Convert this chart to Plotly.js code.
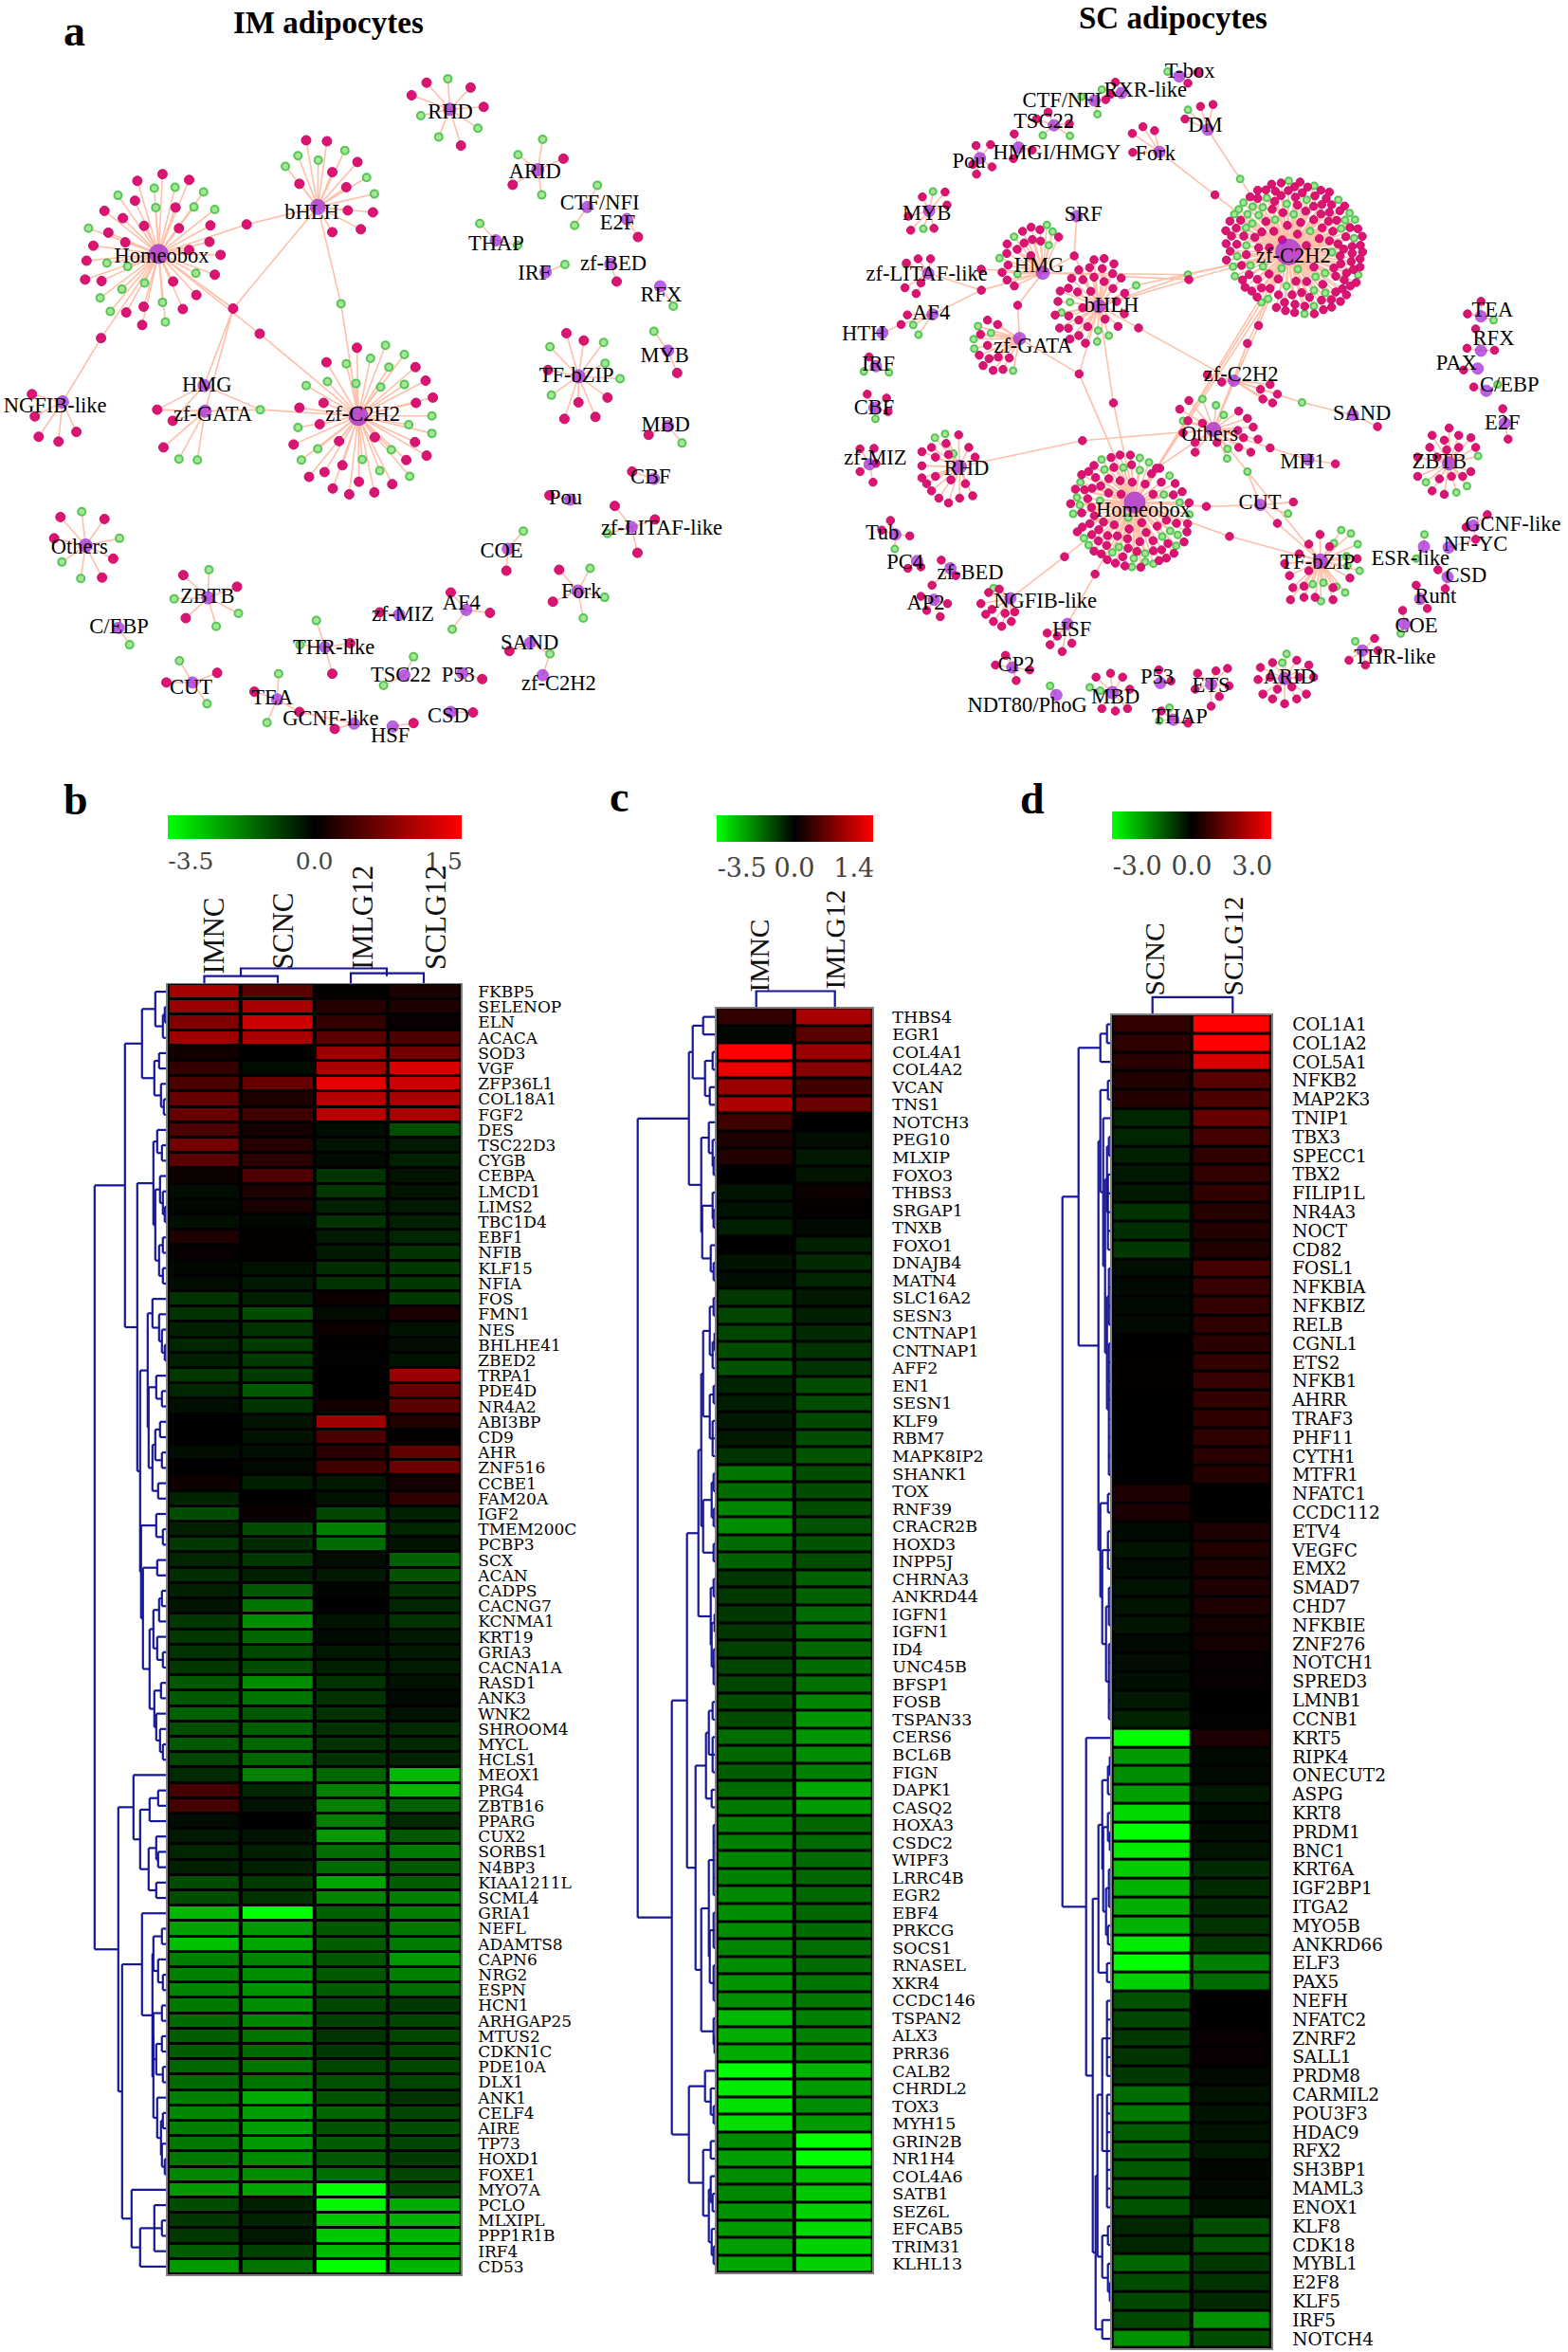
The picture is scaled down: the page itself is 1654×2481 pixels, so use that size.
<!DOCTYPE html>
<html>
<head>
<meta charset="utf-8">
<script src="https://cdn.plot.ly/plotly-3.0.1.min.js"></script>
<style>html,body{margin:0;padding:0;background:#fff}</style>
</head>
<body>
<div id="chart" style="width:1654px;height:2481px"></div>
<script>
/* ---------- heatmap panels: colour level read per cell, -1 full green, 0 black, +1 full red ---------- */
const bSamples = ['IMNC','SCNC','IMLG12','SCLG12'];
const bGenes = ['FKBP5','SELENOP','ELN','ACACA','SOD3','VGF','ZFP36L1','COL18A1','FGF2','DES','TSC22D3','CYGB','CEBPA','LMCD1','LIMS2','TBC1D4','EBF1','NFIB','KLF15','NFIA','FOS','FMN1','NES','BHLHE41','ZBED2','TRPA1','PDE4D','NR4A2','ABI3BP','CD9','AHR','ZNF516','CCBE1','FAM20A','IGF2','TMEM200C','PCBP3','SCX','ACAN','CADPS','CACNG7','KCNMA1','KRT19','GRIA3','CACNA1A','RASD1','ANK3','WNK2','SHROOM4','MYCL','HCLS1','MEOX1','PRG4','ZBTB16','PPARG','CUX2','SORBS1','N4BP3','KIAA1211L','SCML4','GRIA1','NEFL','ADAMTS8','CAPN6','NRG2','ESPN','HCN1','ARHGAP25','MTUS2','CDKN1C','PDE10A','DLX1','ANK1','CELF4','AIRE','TP73','HOXD1','FOXE1','MYO7A','PCLO','MLXIPL','PPP1R1B','IRF4','CD53'];
const bValues = [
[.65,.35,.02,.1],[.6,.65,.15,.12],[.5,.8,.2,.03],[.62,.65,.35,.3],[.07,0,.6,.45],[.2,-.05,.65,.85],[.3,.4,.9,.8],[.4,.12,.7,.65],[.4,.25,.7,.65],[.3,.08,-.05,-.3],
[.45,.15,-.08,-.1],[.35,.17,-.04,-.13],[.05,.3,-.2,-.08],[-.05,.12,-.22,-.08],[-.03,.1,-.13,-.1],[-.06,-.03,-.2,-.13],[.12,.02,-.1,-.15],[.03,.02,-.1,-.2],[-.03,-.07,-.18,-.22],[-.05,-.1,-.2,-.22],
[-.2,-.13,.05,-.22],[-.2,-.3,-.05,.1],[-.13,-.2,.05,-.07],[-.15,-.23,.01,-.05],[-.12,-.23,-.01,-.07],[-.22,-.23,0,.6],[-.15,-.35,0,.4],[-.06,-.2,.07,.35],[0,-.08,.62,.13],[0,-.07,.3,.02],
[-.05,-.06,.17,.38],[0,-.04,.25,.42],[.06,-.12,-.1,.08],[-.14,.01,-.07,.18],[-.3,.04,-.27,-.13],[-.13,-.3,-.5,-.15],[-.22,-.17,-.42,-.07],[-.15,-.22,-.05,-.38],[-.18,-.12,-.1,-.33],[-.13,-.35,-.02,-.2],
[-.08,-.45,0,-.15],[-.22,-.55,-.08,-.2],[-.22,-.4,-.04,-.1],[-.2,-.28,-.09,-.1],[-.22,-.3,-.13,-.11],[-.35,-.55,-.2,-.07],[-.35,-.45,-.2,-.04],[-.38,-.35,-.2,-.07],[-.3,-.37,-.2,-.17],[-.35,-.4,-.2,-.16],
[-.27,-.4,-.2,-.14],[-.17,-.5,-.4,-.72],[.28,-.15,-.5,-.72],[.28,-.07,-.5,-.38],[-.05,0,-.5,-.17],[-.1,-.07,-.6,-.35],[-.15,-.12,-.43,-.48],[-.13,-.13,-.42,-.35],[-.3,-.23,-.65,-.37],[-.3,-.2,-.52,-.5],
[-.72,-1,-.38,-.5],[-.63,-.6,-.35,-.47],[-.75,-.65,-.37,-.48],[-.5,-.52,-.35,-.6],[-.5,-.55,-.35,-.5],[-.52,-.58,-.37,-.43],[-.47,-.55,-.27,-.22],[-.42,-.52,-.25,-.27],[-.37,-.45,-.2,-.27],[-.37,-.42,-.22,-.27],
[-.4,-.45,-.27,-.27],[-.42,-.45,-.32,-.27],[-.5,-.67,-.33,-.2],[-.53,-.62,-.4,-.27],[-.5,-.62,-.33,-.3],[-.47,-.6,-.36,-.27],[-.47,-.55,-.35,-.23],[-.53,-.55,-.43,-.27],[-.6,-.65,-1,-.3],[-.3,-.13,-.97,-.67],
[-.22,-.14,-.78,-.7],[-.22,-.09,-.78,-.7],[-.37,-.25,-.72,-.67],[-.6,-.45,-1,-.7]];
const bTree = [77,
 [45,
  [27,[13,0,[5,[3,0,0],0]],[14,[9,0,0],[7,0,[4,0,0]]]],
  [32,
   [15,[11,0,[6,0,0]],[13,[8,0,[5,0,[3,0,0]]],[9,[5,0,0],[5,0,0]]]],
   [29,
    [21,[16,0,[9,0,[6,0,[3,0,0]]]],[20,[12,0,[6,0,0]],[16,[13,[8,0,0],[6,0,0]],[10,0,0]]]],
    [28,[12,0,[5,0,0]],[26,[11,0,0],[19,[15,[9,[6,0,0],0],[11,0,[5,0,0]]],[14,[7,0,0],[12,0,[8,0,[5,0,0]]]]]]]
   ]
  ]
 ],
 [52,
  [36,0,[29,[19,[10,0,0],0],[20,[12,0,[10,0,0]],[12,0,0]]]],
  [48,
   [27,0,[16,[15,[6,0,0],[10,0,[5,0,0]]],[15,[15,[6,0,0],[12,[6,0,0],[5,0,0]]],[11,0,[7,[5,0,0],[6,0,[3,0,0]]]]]]],
   [38,0,[29,[14,0,[6,0,0],0],0]]
  ]
 ]
];

const cSamples = ['IMNC','IMLG12'];
const cGenes = ['THBS4','EGR1','COL4A1','COL4A2','VCAN','TNS1','NOTCH3','PEG10','MLXIP','FOXO3','THBS3','SRGAP1','TNXB','FOXO1','DNAJB4','MATN4','SLC16A2','SESN3','CNTNAP1','CNTNAP1','AFF2','EN1','SESN1','KLF9','RBM7','MAPK8IP2','SHANK1','TOX','RNF39','CRACR2B','HOXD3','INPP5J','CHRNA3','ANKRD44','IGFN1','IGFN1','ID4','UNC45B','BFSP1','FOSB','TSPAN33','CERS6','BCL6B','FIGN','DAPK1','CASQ2','HOXA3','CSDC2','WIPF3','LRRC4B','EGR2','EBF4','PRKCG','SOCS1','RNASEL','XKR4','CCDC146','TSPAN2','ALX3','PRR36','CALB2','CHRDL2','TOX3','MYH15','GRIN2B','NR1H4','COL4A6','SATB1','SEZ6L','EFCAB5','TRIM31','KLHL13'];
const cValues = [
[.2,.65],[-.03,.35],[1,.6],[.92,.52],[.6,.25],[.68,.42],[.25,0],[.12,-.05],[.13,-.1],[0,-.08],[-.08,.05],[-.07,.02],[-.12,-.04],[.01,-.13],[-.07,-.17],[-.06,-.15],[-.22,-.1],[-.27,-.12],[-.27,-.17],[-.3,-.2],
[-.33,-.2],[-.14,-.3],[-.12,-.3],[-.1,-.28],[-.1,-.3],[-.2,-.33],[-.45,-.3],[-.42,-.3],[-.52,-.3],[-.55,-.32],[-.42,-.33],[-.38,-.3],[-.22,-.38],[-.22,-.38],[-.22,-.42],[-.22,-.42],[-.25,-.4],[-.27,-.42],[-.27,-.44],[-.3,-.52],
[-.3,-.58],[-.42,-.58],[-.4,-.55],[-.37,-.5],[-.42,-.66],[-.47,-.6],[-.5,-.4],[-.5,-.42],[-.52,-.42],[-.5,-.4],[-.53,-.4],[-.55,-.4],[-.55,-.42],[-.52,-.43],[-.55,-.42],[-.58,-.45],[-.57,-.47],[-.72,-.5],[-.68,-.5],[-.67,-.52],
[-1,-.7],[-.92,-.6],[-.88,-.55],[-.88,-.6],[-.55,-1],[-.62,-1],[-.55,-.75],[-.53,-.78],[-.57,-.82],[-.6,-.85],[-.62,-.82],[-.65,-.82]];
const cTree = [83,
 [29,
  [25,[14,0,0],[12,[4,0,0],[7,0,0]]],
  [16,[8,0,[4,0,[3,0,0]]],[15,[4,0,[3,0,0]],[6,0,[3,0,0]]]]
 ],
 [47,
  [31,
   [19,
    [16,[14,[7,[3,0,0],[4,[2,0,0],0]],[7,[3,0,0],[4,0,0,0]]],[14,[5,[3,0,0],[3,0,0]],[3,0,0]]],
    [6,[3,0,0],[5,[2,0,0],[3,0,0,0]]]
   ],
   [22,
    [11,[8,[4,0,0],[4,0,0,0]],[5,0,0]],
    [16,[8,[3,0,0,0,0,0],[7,[3,0,0,0],[3,0,0,0]]],[3,0,[2,0,0]]]
   ]
  ],
  [29,[12,0,[6,0,[3,0,0]]],[14,[6,0,0],[8,[6,0,[4,0,0]],[5,0,[3,0,0]]]]]
 ]
];

const dSamples = ['SCNC','SCLG12'];
const dGenes = ['COL1A1','COL1A2','COL5A1','NFKB2','MAP2K3','TNIP1','TBX3','SPECC1','TBX2','FILIP1L','NR4A3','NOCT','CD82','FOSL1','NFKBIA','NFKBIZ','RELB','CGNL1','ETS2','NFKB1','AHRR','TRAF3','PHF11','CYTH1','MTFR1','NFATC1','CCDC112','ETV4','VEGFC','EMX2','SMAD7','CHD7','NFKBIE','ZNF276','NOTCH1','SPRED3','LMNB1','CCNB1','KRT5','RIPK4','ONECUT2','ASPG','KRT8','PRDM1','BNC1','KRT6A','IGF2BP1','ITGA2','MYO5B','ANKRD66','ELF3','PAX5','NEFH','NFATC2','ZNRF2','SALL1','PRDM8','CARMIL2','POU3F3','HDAC9','RFX2','SH3BP1','MAML3','ENOX1','KLF8','CDK18','MYBL1','E2F8','KLF5','IRF5','NOTCH4'];
const dValues = [
[.2,1],[.18,1],[.17,.85],[.13,.35],[.14,.3],[-.15,.4],[-.15,.27],[-.13,.18],[-.1,.2],[-.1,.18],[-.2,.15],[-.18,.14],[-.22,.13],[-.06,.27],[-.04,.22],[-.04,.2],[-.04,.18],[0,.17],[.02,.2],[.02,.22],
[.01,.2],[.01,.18],[.01,.18],[0,.17],[0,.14],[.12,.01],[.1,.01],[-.04,.12],[-.08,.13],[-.05,.12],[-.07,.12],[-.08,.12],[-.08,.08],[-.04,.08],[-.05,.03],[-.06,.03],[-.1,.01],[-.14,-.01],[-1,.12],[-.6,-.04],
[-.55,-.04],[-.62,-.1],[-.85,-.06],[-1,-.05],[-.92,-.08],[-.8,-.17],[-.7,-.17],[-.68,-.17],[-.7,-.2],[-.92,-.22],[-1,-.5],[-.82,-.42],[-.32,0],[-.27,0],[-.22,.03],[-.2,.03],[-.22,-.04],[-.42,-.07],[-.47,-.07],[-.37,-.08],
[-.38,-.09],[-.35,-.03],[-.35,-.04],[-.32,-.07],[-.15,-.3],[-.15,-.32],[-.4,-.22],[-.3,-.2],[-.28,-.17],[-.28,-.57],[-.57,-.3]];
const dTree = [52,
 [35,
  [12,[5,0,0],0],
  [14,
   [12,[4,0,0],[9,0,[7,[5,[3,0,0],[4,0,0,0,0,0]],[5,[3,0,0,0,0],[3,0,0,0,0,0,0,0,0]]]]],
   [12,[4,0,0],[10,[4,0,0,0],[6,[3,0,0,0],[3,0,0,0,0,0]]]]
  ]
 ],
 [27,0,
  [20,
   [14,[10,[4,[2,0,0],0],[9,[4,0,[2,0,0]],[6,[3,0,0,0],[4,0,0]]]],[5,0,0]],
   [17,
    [15,[10,[5,0,0,0,0,0],[5,0,0,0,0,0,0,0]],[10,[4,0,0],[4,0,[2,0,0]]]],
    [10,0,0]
   ]
  ]
 ]
];

/* ---------- networks: hub and target positions ---------- */
const Z1=[0,0,1.96], Z2=[850,0,1.96], CROP_ZF=[1270,170,3], CROP_HOX=[1110,460,3], CROP_CORE=[1020,220,3];

const imHubPos = {'Homeobox':[328,525,20],'bHLH':[657,428,16],'zf-C2H2':[741,860,20],'NGFIB-like':[129,831,13],'HMG':[422,797,13],'zf-GATA':[424,850,13],'RHD':[930,226,13],'ARID':[1112,351,13],'CTF/NFI':[1214,428,12],'E2F':[1296,453,12],'THAP':[1025,497,12],'IRF':[1128,563,12],'zf-BED':[1262,546,12],'RFX':[1365,592,12],'TF-bZIP':[1196,778,14],'MYB':[1381,725,12],'MBD':[1381,881,12],'CBF':[1352,990,12],'Pou':[1179,1033,12],'zf-LITAF-like':[1306,1090,12],'COE':[1050,1135,12],'Fork':[1195,1222,13],'AF4':[964,1261,12],'zf-MIZ':[825,1271,12],'SAND':[1096,1329,12],'P53':[956,1392,12],'TSC22':[836,1396,12],'THR-like':[672,1338,12],'CSD':[932,1472,12],'HSF':[812,1502,12],'GCNF-like':[732,1496,12],'TEA':[573,1446,12],'CUT':[398,1411,12],'ZBTB':[430,1236,13],'C/EBP':[245,1298,12],'Others':[177,1128,14],'zf-C2H2#2':[1122,1396,12]};
const imLabelPos = {'Homeobox':[334,532],'bHLH':[645,441],'zf-C2H2':[750,860],'NGFIB-like':[114,841],'HMG':[428,798],'zf-GATA':[440,860],'RHD':[931,233],'ARID':[1106,357],'CTF/NFI':[1240,423],'E2F':[1277,464],'THAP':[1026,506],'IRF':[1105,567],'zf-BED':[1268,548],'RFX':[1367,612],'TF-bZIP':[1192,779],'MYB':[1374,737],'MBD':[1376,881],'CBF':[1345,988],'Pou':[1169,1032],'zf-LITAF-like':[1368,1095],'COE':[1037,1141],'Fork':[1202,1226],'AF4':[954,1250],'zf-MIZ':[833,1273],'SAND':[1095,1331],'P53':[947,1398],'TSC22':[829,1399],'THR-like':[690,1341],'CSD':[927,1483],'HSF':[807,1524],'GCNF-like':[684,1489],'TEA':[563,1446],'CUT':[395,1424],'ZBTB':[429,1235],'C/EBP':[246,1298],'Others':[164,1134],'zf-C2H2#2':[1155,1416]};
const imRedLeaves = {
'Homeobox':[336,360,284,374,391,372,216,436,279,415,363,429,254,451,298,467,370,472,435,466,224,481,259,501,193,508,433,500,456,527,179,539,391,517,176,578,210,581,358,582,444,568,261,646,297,634,378,639,406,610,294,672],
'bHLH':[633,290,676,292,739,335,687,356,619,380,716,387,719,435,771,439,746,474,687,480],
'zf-C2H2':[738,719,675,749,859,759,880,787,669,833,860,833,895,822,619,843,661,877,701,912,775,904,858,914,607,919,840,951,882,942,708,962,671,976,639,986,811,1001,742,996,688,1010,722,1022,774,1018],
'NGFIB-like':[66,815,72,861,80,903,121,913,158,893],'zf-GATA':[338,925],'RHD':[882,171,851,197,973,181,1000,221,953,301],'ARID':[1165,328,1060,382],'E2F':[1319,490],'zf-BED':[1275,582],
'TF-bZIP':[1171,689,1207,704,1133,765,1196,832,1256,822,1167,866,1231,862],'MYB':[1400,771],'MBD':[1341,899],'CBF':[1307,975],'Pou':[1136,1024],'zf-LITAF-like':[1271,1046,1354,1074,1318,1143],'COE':[1047,1180],'Fork':[1156,1178,1143,1244],'AF4':[932,1225,1013,1267],'zf-MIZ':[785,1266],'SAND':[1053,1346],'P53':[997,1404],'THR-like':[724,1330,687,1393],'CSD':[978,1473],'HSF':[855,1495],'GCNF-like':[692,1507],'TEA':[526,1430],'CUT':[449,1391,344,1411],'ZBTB':[379,1189,490,1213,384,1278],'Others':[125,1069,216,1073,112,1113,234,1155,211,1194]};
const imGreenLeaves = {
'Homeobox':[244,404,319,389,362,387,421,397,322,429,401,428,444,433,183,472,221,544,264,551,405,565,299,585,252,598,207,616,228,644,336,625,342,666],
'bHLH':[616,322,658,331,713,311,590,344,758,367,774,401],
'zf-C2H2':[797,714,836,733,716,752,766,741,804,759,677,789,633,797,736,793,787,800,836,795,893,860,845,878,893,896,616,884,657,928,809,930,623,951,749,950,785,973,847,985],
'zf-GATA':[370,949,408,951],'RHD':[926,163,870,239,988,265,907,283],'ARID':[1122,288,1071,320,1120,403],'CTF/NFI':[1235,383,1188,466],'THAP':[992,462,1070,507],'IRF':[1168,547],'RFX':[1392,633],
'TF-bZIP':[1137,717,1248,708,1251,751,1282,783,1140,817],'MYB':[1352,685],'MBD':[1410,916],'zf-LITAF-like':[1256,1103],'COE':[1082,1098],'Fork':[1220,1175,1250,1235,1206,1278],'AF4':[935,1301],'TSC22':[855,1358,793,1417],'THR-like':[654,1283,620,1333],'TEA':[576,1393,552,1494],'CUT':[371,1366,428,1455],'ZBTB':[432,1178,360,1238,493,1268,447,1295],'C/EBP':[268,1333],'Others':[169,1058,247,1113,128,1162,167,1196]};
const imSharedNodes = [
[510,464,'r','Homeobox','bHLH'],[482,638,'r','Homeobox','bHLH','HMG','zf-GATA'],[537,690,'r','Homeobox','zf-C2H2'],[705,628,'g','bHLH','zf-C2H2'],[209,699,'r','Homeobox','NGFIB-like'],[538,847,'g','zf-GATA','zf-C2H2','HMG'],[325,847,'r','HMG','zf-GATA'],[357,870,'r','HMG','zf-GATA'],[1137,1352,'g','SAND','zf-C2H2#2'],[619,1472,'r','TEA','GCNF-like']];

const scHubPos = {'zf-C2H2':[998,521,27],'Homeobox':[680,1039,22],'HMG':[490,564,14],'bHLH':[606,633,14],'zf-GATA':[442,700,13],'T-box':[772,158,12],'RXR-like':[653,192,12],'CTF/NFI':[597,208,12],'TSC22':[513,259,12],'HMGI/HMGY':[440,305,12],'Pou':[360,327,12],'DM':[831,268,12],'Fork':[731,314,12],'MYB':[255,436,12],'SRF':[560,447,12],'zf-LITAF-like':[253,565,12],'AF4':[262,650,12],'HTH':[158,688,12],'IRF':[145,757,12],'CBF':[142,843,12],'zf-MIZ':[132,960,12],'RHD':[318,965,14],'Tub':[185,1105,12],'PC4':[230,1160,12],'zf-BED':[299,1175,12],'AP2':[265,1240,12],'NGFIB-like':[423,1237,12],'HSF':[541,1290,12],'CP2':[427,1380,12],'NDT80/PhoG':[518,1437,12],'MBD':[634,1432,13],'P53':[733,1412,12],'ETS':[838,1415,12],'THAP':[760,1488,12],'ARID':[990,1403,13],'THR-like':[1151,1345,12],'COE':[1238,1290,12],'Runt':[1270,1238,12],'CSD':[1327,1193,12],'ESR-like':[1278,1130,12],'NF-YC':[1329,1132,12],'GCNF-like':[1380,1087,12],'TF-bZIP':[1064,1160,15],'CUT':[940,1044,12],'Others':[843,888,15],'zf-C2H2#2':[885,787,12],'SAND':[1131,858,12],'MH1':[1039,950,12],'ZBTB':[1330,958,14],'TEA':[1396,654,12],'RFX':[1396,725,12],'PAX':[1389,762,12],'C/EBP':[1407,808,12],'E2F':[1445,875,12]};
const scLabelPos = {'zf-C2H2':[1008,532],'Homeobox':[698,1058],'HMG':[482,551],'bHLH':[632,634],'zf-GATA':[470,718],'T-box':[794,149],'RXR-like':[702,189],'CTF/NFI':[530,211],'TSC22':[492,254],'HMGI/HMGY':[519,318],'Pou':[337,336],'DM':[826,262],'Fork':[723,321],'MYB':[250,443],'SRF':[574,445],'zf-LITAF-like':[250,570],'AF4':[259,650],'HTH':[120,693],'IRF':[150,755],'CBF':[141,846],'zf-MIZ':[144,950],'RHD':[332,971],'Tub':[158,1104],'PC4':[205,1165],'zf-BED':[340,1187],'AP2':[248,1250],'NGFIB-like':[495,1245],'HSF':[550,1304],'CP2':[435,1377],'NDT80/PhoG':[458,1460],'MBD':[640,1443],'P53':[726,1402],'ETS':[838,1420],'THAP':[773,1484],'ARID':[1000,1403],'THR-like':[1218,1360],'COE':[1262,1296],'Runt':[1302,1236],'CSD':[1365,1192],'ESR-like':[1250,1157],'NF-YC':[1385,1128],'GCNF-like':[1462,1087],'TF-bZIP':[1058,1165],'CUT':[939,1041],'Others':[835,900],'zf-C2H2#2':[900,777],'SAND':[1150,857],'MH1':[1027,958],'ZBTB':[1310,958],'TEA':[1420,644],'RFX':[1422,703],'PAX':[1345,753],'C/EBP':[1455,798],'E2F':[1440,877]};
const scDenseRed = [
['zf-C2H2',CROP_ZF,[214,73,244,69,304,66,287,81,328,82,170,92,196,91,226,95,267,93,311,100,244,109,370,92,397,98,351,110,146,113,170,118,224,127,289,114,387,118,373,137,404,138,347,143,296,139,445,142,216,152,250,163,322,158,397,162,370,167,430,157,82,190,116,187,196,191,347,185,306,194,394,190,420,187,264,203,102,212,69,220,183,224,221,222,296,231,374,211,408,222,462,210,487,214,87,237,126,237,161,241,365,245,397,252,449,239,501,238,248,249,424,262,70,261,104,263,173,274,207,274,324,267,469,270,495,266,442,278,83,285,134,296,502,287,469,292,431,300,71,313,119,330,494,309,466,318,433,325,411,338,348,335,494,335,473,343,451,354,143,359,206,357,169,374,235,373,291,380,325,381,122,376,376,390,444,376,417,364,482,384,463,395,130,399,182,401,209,403,151,411,309,416,236,423,279,423,334,431,168,430,417,414,438,404,451,423,372,440,403,438,432,444,255,447,288,453,229,463,319,459,258,473,287,479,378,470,404,462,349,483]],
['Homeobox',CROP_HOX,[186,68,214,60,247,60,132,93,195,99,251,91,115,112,93,122,340,102,314,119,137,131,179,135,215,141,253,146,345,146,389,150,294,152,153,158,126,165,102,170,73,168,411,176,178,180,218,184,319,184,383,186,112,198,58,214,433,211,124,226,93,243,133,252,162,272,119,277,283,274,361,266,393,276,428,277,95,288,79,303,196,281,147,296,243,294,332,285,297,305,426,303,125,312,175,315,206,316,238,325,146,332,277,334,319,331,417,335,172,346,366,340,240,355,268,365,320,363,346,360,132,364,155,373,223,382,385,371,361,386,174,391,338,394,200,402,230,411,280,415]],
['HMG',CROP_CORE,[176,72,203,59,231,67,290,90,127,112,207,98,233,103,181,109,159,129,126,142,202,149,130,179,45,192,111,202,127,226,150,245]],
['bHLH',CROP_CORE,[402,162,434,158,465,175,354,194,388,187,428,190,461,206,488,220,331,221,367,225,402,217,434,231,295,261,321,252,350,264,392,262,462,253,499,268,288,294,279,337,366,314,322,340,474,294,498,333,354,353,437,350,293,378,321,379,382,374,478,373,354,402,326,413,375,426]],
['zf-GATA',CROP_CORE,[65,353,97,367,43,398,65,433,39,464,99,470,134,473,70,475,51,497,83,512,114,509]]];
const scDenseGreen = [
['zf-C2H2',CROP_ZF,[268,62,349,78,199,116,325,122,425,122,125,131,262,135,110,152,154,144,186,146,96,168,138,168,173,171,284,168,461,164,225,185,447,187,478,185,153,197,133,211,434,213,336,221,475,244,134,267,105,301,405,288,147,330,187,333,92,334,246,339,297,342,98,364,353,366,383,354,488,360,261,395,348,409,384,417,348,459,318,483]],
['Homeobox',CROP_HOX,[156,74,277,69,306,83,165,106,225,100,277,108,371,125,89,146,353,185,78,194,151,204,403,210,87,218,66,246,240,258,434,248,373,300,397,313,348,318,100,323,392,347,115,345,211,351,190,368,294,371,258,387,294,398,320,404,252,414]],
['HMG',CROP_CORE,[149,89,253,52,271,73,259,116,103,157,160,207]],
['bHLH',CROP_CORE,[326,296,299,329,415,386,449,402,412,421]],
['zf-GATA',CROP_CORE,[35,372,76,394,21,413,23,443,146,513]]];
const scRedLeaves = {
'T-box':[790,172,810,150],'RXR-like':[630,195,640,170],'CTF/NFI':[620,206],'TSC22':[477,246,501,232,545,256],'HMGI/HMGY':[431,277,468,310,429,328],'Pou':[352,301,382,299,385,345,353,360,345,340],'DM':[816,220,842,216,784,246],'Fork':[675,276,697,262,721,270,676,315],'MYB':[241,407,288,397,292,424,212,447,217,476,265,472],
'zf-LITAF-like':[208,544,232,535,258,535,205,595,228,607,238,585],'AF4':[210,651],'IRF':[131,738],'CBF':[127,815,167,823,170,851],'zf-MIZ':[112,928,141,927,145,958,112,975,139,997],
'RHD':[240,934,316,899,337,925,290,917,260,925,268,945,240,963,295,940,240,988,268,985,260,1015,300,992,250,1000,275,1030,295,1040,318,1030,345,1025,330,1000,350,945],
'Tub':[175,1076,215,1108,157,1096],'PC4':[211,1175,238,1172],'zf-BED':[280,1158,261,1210,310,1190],'AP2':[238,1233,293,1248,278,1275,250,1262],'NGFIB-like':[362,1248,378,1225,400,1218,372,1270,388,1285,405,1295,425,1285,432,1265,412,1268,385,1260],'HSF':[499,1309,505,1333,530,1347,550,1330,520,1315],'CP2':[413,1355,392,1375,463,1385,435,1407],'MBD':[600,1400,630,1392,655,1400,670,1425,665,1465,612,1465,640,1470],'P53':[730,1385,755,1408],'ETS':[810,1392,848,1387,872,1382,875,1418,855,1440,838,1460,805,1425],'THAP':[790,1495,735,1470],
'ARID':[965,1370,1015,1365,1040,1375,1050,1400,1035,1435,1015,1445,990,1455,965,1445,945,1435,935,1405,940,1380,975,1425,1005,1420,1020,1400,960,1400],'THR-like':[1176,1320,1123,1365,1157,1375,1183,1345],'COE':[1234,1262],'Runt':[1262,1210,1285,1258],'CSD':[1307,1178,1322,1217],'GCNF-like':[1409,1064,1365,1090],
'TF-bZIP':[1063,1105,1040,1125,1020,1145,990,1165,1000,1190,1007,1215,1030,1212,1002,1240,1030,1235,1053,1235,1090,1240,1125,1195,1090,1215,1140,1155,1040,1180,1083,1130],'CUT':[1008,1038],
'Others':[792,828,773,846,820,875,790,870,895,850,913,865,925,883,893,890,905,905,935,908,895,925,920,935,780,895,805,915,805,935,850,915],'zf-C2H2#2':[830,775,860,790,940,805,960,795,975,815,945,825,965,833],'SAND':[1182,882],'MH1':[1095,959],
'ZBTB':[1330,885,1295,900,1320,910,1350,900,1375,905,1290,925,1325,930,1350,925,1265,945,1305,945,1385,925,1265,985,1295,1015,1320,1022,1358,985,1375,975,1310,990,1335,985],'TEA':[1368,649,1396,623],'RFX':[1367,720,1424,724,1385,680],'PAX':[1360,765],'C/EBP':[1381,800],'E2F':[1441,845,1452,908]};
const scGreenLeaves = {
'T-box':[748,148],'RXR-like':[612,185],'CTF/NFI':[570,200,603,236],'TSC22':[490,280,546,281],'DM':[790,227],'MYB':[263,396,243,473],'zf-LITAF-like':[207,547],'AF4':[222,672,233,692],'IRF':[120,768,172,770],'CBF':[144,866],'RHD':[267,905,288,897,305,938],'Tub':[184,1135],'NGFIB-like':[388,1216],'NDT80/PhoG':[505,1418],'MBD':[587,1421,609,1428],'THAP':[752,1463,731,1490],'ARID':[994,1352,985,1370],'THR-like':[1136,1326],'COE':[1230,1310],'ESR-like':[1279,1105,1262,1155],
'TF-bZIP':[1107,1096,1127,1103,1141,1125,1092,1123,1118,1150,1120,1170,1145,1180,1048,1208,1070,1205,1097,1213,1115,1225,1065,1243],'CUT':[997,1062],'Others':[820,825,848,838,864,858,780,870,872,928,871,948],'ZBTB':[1390,943,1282,997,1367,1005,1345,1018],'TEA':[1422,662],'C/EBP':[1430,795]};
const scSharedNodes = [
[790,568,'g','bHLH','zf-C2H2','HMG'],[792,578,'r','bHLH','zf-C2H2','HMG'],[683,590,'g','bHLH','zf-C2H2'],[936,673,'r','zf-C2H2','Others'],[913,710,'r','zf-C2H2','zf-C2H2#2','Others'],[942,625,'g','zf-C2H2','Homeobox'],[956,618,'g','zf-C2H2','Homeobox'],[725,968,'r','zf-C2H2','Homeobox','Others'],
[565,773,'r','bHLH','zf-GATA','Homeobox'],[636,833,'r','bHLH','Homeobox'],[688,678,'r','bHLH','zf-C2H2#2'],[555,529,'r','SRF','HMG','bHLH'],[438,631,'r','HMG','zf-GATA'],[363,600,'r','HMG','AF4','zf-LITAF-like'],[197,671,'r','AF4','HTH'],[846,403,'r','Fork','zf-C2H2'],[898,370,'g','DM','zf-C2H2'],[572,911,'r','Others','RHD'],[535,1151,'r','Homeobox','NGFIB-like'],[598,1187,'r','Homeobox','HSF'],[828,1047,'r','Homeobox','CUT'],[876,1109,'r','Homeobox','TF-bZIP'],[913,975,'g','Others','CUT','TF-bZIP'],[975,1082,'r','CUT','TF-bZIP'],[960,926,'r','Others','MH1'],[1026,832,'g','zf-C2H2#2','SAND'],[1385,1115,'r','NF-YC','GCNF-like']];

/* ---------- helpers ---------- */
const pts = (frame, flat) => { const o=[]; for(let i=0;i<flat.length;i+=2) o.push([frame[0]+flat[i]/frame[2], frame[1]+flat[i+1]/frame[2]]); return o; };
const serif = 'Liberation Serif', wide = 'DejaVu Serif';
const scale = [[0,'#00ff00'],[.5,'#000000'],[1,'#ff0000']];
const W=1654, H=2481;
const traces=[], annotations=[], shapes=[];
const layout={width:W,height:H,margin:{l:0,r:0,t:0,b:0,pad:0},paper_bgcolor:'#fff',plot_bgcolor:'rgba(0,0,0,0)',showlegend:false,
 xaxis:{domain:[0,1],range:[0,W],visible:false,fixedrange:true},
 yaxis:{domain:[0,1],range:[H,0],visible:false,fixedrange:true}};

function network(hubs, labels, redMap, greenMap, shared, frame, denseRed, denseGreen, redSize, greenSize){
  const hub={}; for(const k in hubs) hub[k]=pts(frame,hubs[k].slice(0,2))[0];
  const ex=[],ey=[],rx=[],ry=[],gx=[],gy=[];
  const addNode=(p,isRed,keys)=>{(isRed?rx:gx).push(p[0]);(isRed?ry:gy).push(p[1]);
    keys.forEach(k=>{ex.push(p[0],hub[k][0],null);ey.push(p[1],hub[k][1],null);});};
  for(const k in redMap) pts(frame,redMap[k]).forEach(p=>addNode(p,true,[k]));
  for(const k in greenMap) pts(frame,greenMap[k]).forEach(p=>addNode(p,false,[k]));
  denseRed.forEach(r=>pts(r[1],r[2]).forEach(p=>addNode(p,true,[r[0]])));
  denseGreen.forEach(r=>pts(r[1],r[2]).forEach(p=>addNode(p,false,[r[0]])));
  shared.forEach(s=>addNode(pts(frame,s.slice(0,2))[0],s[2]==='r',s.slice(3)));
  traces.push({type:'scatter',mode:'lines',x:ex,y:ey,line:{color:'#ffbfa8',width:1.6},hoverinfo:'skip'});
  traces.push({type:'scatter',mode:'markers',x:gx,y:gy,marker:{size:greenSize,color:'#a6e596',line:{color:'#55c655',width:2}},hoverinfo:'skip'});
  traces.push({type:'scatter',mode:'markers',x:rx,y:ry,marker:{size:redSize,color:'#da1470',line:{color:'#c9106a',width:1}},hoverinfo:'skip'});
  const keys=Object.keys(hubs);
  traces.push({type:'scatter',mode:'markers',x:keys.map(k=>hub[k][0]),y:keys.map(k=>hub[k][1]),marker:{size:keys.map(k=>hubs[k][2]),color:'#a01fdc',line:{color:'#8a14c2',width:1}},hoverinfo:'skip'});
  const lab=keys.map(k=>pts(frame,labels[k])[0]);
  traces.push({type:'scatter',mode:'text',x:lab.map(p=>p[0]),y:lab.map(p=>p[1]),text:keys.map(k=>k.replace(/#.*/,'')),textposition:'middle center',textfont:{family:serif,size:22.5,color:'#000'},hoverinfo:'skip'});
}

function dendroRows(tree,x0,y0,rowH){
  const xs=[],ys=[]; let idx=0;
  const rec=n=>{
    if(n===0){const y=y0+(idx+.5)*rowH; idx++; return [x0,y];}
    const kids=n.slice(1).map(rec), x=x0-n[0];
    kids.forEach(k=>{xs.push(k[0],x,null);ys.push(k[1],k[1],null);});
    const a=kids[0][1], b=kids[kids.length-1][1];
    xs.push(x,x,null);ys.push(a,b,null);
    return [x,(a+b)/2];
  };
  rec(tree);
  traces.push({type:'scatter',mode:'lines',x:xs,y:ys,line:{color:'#16169a',width:2.2},hoverinfo:'skip'});
}
function dendroCols(list){
  const xs=[],ys=[];
  list.forEach(s=>{xs.push(s[0],s[0],s[1],s[1],null);ys.push(s[2],s[3],s[3],s[2],null);});
  traces.push({type:'scatter',mode:'lines',x:xs,y:ys,line:{color:'#16169a',width:2.2},hoverinfo:'skip'});
}

function heatPanel(n,opt){
  const xa='x'+n, ya='y'+n, [l,r,t,b]=opt.box, rows=opt.genes.length, cols=opt.samples.length;
  layout['xaxis'+n]={domain:[l/W,r/W],range:[-.5,cols-.5],anchor:ya,showticklabels:false,ticks:'',showgrid:false,zeroline:false,showline:true,mirror:true,linecolor:'#808080',linewidth:1.5,fixedrange:true};
  layout['yaxis'+n]={domain:[1-b/H,1-t/H],range:[rows-.5,-.5],anchor:xa,side:'right',tickmode:'array',tickvals:opt.genes.map((g,i)=>i),ticktext:opt.genes,ticks:'outside',ticklen:opt.tickGap,tickcolor:'rgba(0,0,0,0)',tickfont:{family:wide,size:opt.geneSize,color:'#000'},showgrid:false,zeroline:false,showline:true,mirror:true,linecolor:'#808080',linewidth:1.5,fixedrange:true};
  shapes.push({type:'rect',xref:xa+' domain',yref:ya+' domain',x0:0,x1:1,y0:0,y1:1,fillcolor:'#000',line:{width:0},layer:'below'});
  const [cl,cr,ct,cb]=opt.bar;
  traces.push({type:'heatmap',xaxis:xa,yaxis:ya,x:opt.samples.map((s,i)=>i),y:opt.genes.map((g,i)=>i),z:opt.values,zmin:-1,zmax:1,colorscale:scale,xgap:opt.xgap,ygap:opt.ygap,hoverinfo:'skip',
    colorbar:{orientation:'h',x:(cl+cr)/2/W,xanchor:'center',y:1-ct/H,yanchor:'top',lenmode:'pixels',len:cr-cl,thicknessmode:'pixels',thickness:cb-ct,xpad:0,ypad:0,outlinewidth:0,borderwidth:0,tickmode:'array',tickvals:opt.barTicks,ticktext:opt.barLabels,ticks:'outside',ticklen:opt.barGap,tickcolor:'rgba(0,0,0,0)',tickfont:{family:wide,size:opt.barFont,color:'#444'}}});
  opt.samples.forEach((s,i)=>annotations.push({xref:'x',yref:'y',x:opt.labelX[i],y:opt.labelB[i],text:s,showarrow:false,textangle:-90,xanchor:'center',yanchor:'bottom',font:{family:serif,size:opt.sampleSize,color:'#111'},borderpad:0}));
  dendroRows(opt.tree,l,t,(b-t)/rows);
  dendroCols(opt.topTree);
}

/* ---------- build ---------- */
network(imHubPos,imLabelPos,imRedLeaves,imGreenLeaves,imSharedNodes,Z1,[],[],10,8);
network(scHubPos,scLabelPos,scRedLeaves,scGreenLeaves,scSharedNodes,Z2,scDenseRed,scDenseGreen,8.5,7);

heatPanel(2,{box:[176.8,486.4,1038,2399],samples:bSamples,genes:bGenes,values:bValues,tree:bTree,
 topTree:[[215.5,293,1038,1029.7],[370,447,1038,1026.6],[254,408,1029.7,1021.5]],
 labelX:[225,298,382,459],labelB:[1029,1024,1024,1024],sampleSize:31,geneSize:17,tickGap:13,xgap:4,ygap:3,
 bar:[176.8,486.4,860,885],barTicks:[-.84,0,.88],barLabels:['-3.5','0.0','1.5'],barFont:25,barGap:2});
heatPanel(3,{box:[755.7,920.3,1063.4,2397.5],samples:cSamples,genes:cGenes,values:cValues,tree:cTree,
 topTree:[[797.7,880.7,1063.4,1045.5]],
 labelX:[800,880],labelB:[1048,1045],sampleSize:29.5,geneSize:17.5,tickGap:16,xgap:4,ygap:3,
 bar:[755.7,920.3,860,888],barTicks:[-.67,0,.76],barLabels:['-3.5','0.0','1.4'],barFont:27,barGap:5});
heatPanel(4,{box:[1172.7,1341,1070.6,2477],samples:dSamples,genes:dGenes,values:dValues,tree:dTree,
 topTree:[[1215.7,1300.3,1070.6,1051.8]],
 labelX:[1217,1300],labelB:[1052,1052],sampleSize:29.5,geneSize:18.5,tickGap:17,xgap:4,ygap:3,
 bar:[1172.7,1341,856,885],barTicks:[-.68,0,.76],barLabels:['-3.0','0.0','3.0'],barFont:27,barGap:6});

const panelLetters=[['a',78,32],['b',80,843],['c',653,840],['d',1089,842]];
panelLetters.forEach(p=>annotations.push({xref:'x',yref:'y',x:p[1],y:p[2],text:'<b>'+p[0]+'</b>',showarrow:false,font:{family:serif,size:46,color:'#000'}}));
const panelTitles=[['IM adipocytes',346,24],['SC adipocytes',1237,19]];
panelTitles.forEach(p=>annotations.push({xref:'x',yref:'y',x:p[1],y:p[2],text:'<b>'+p[0]+'</b>',showarrow:false,font:{family:serif,size:33,color:'#000'}}));
layout.annotations=annotations; layout.shapes=shapes;
Plotly.newPlot('chart',traces,layout,{staticPlot:true,displayModeBar:false});
</script>
</body>
</html>
